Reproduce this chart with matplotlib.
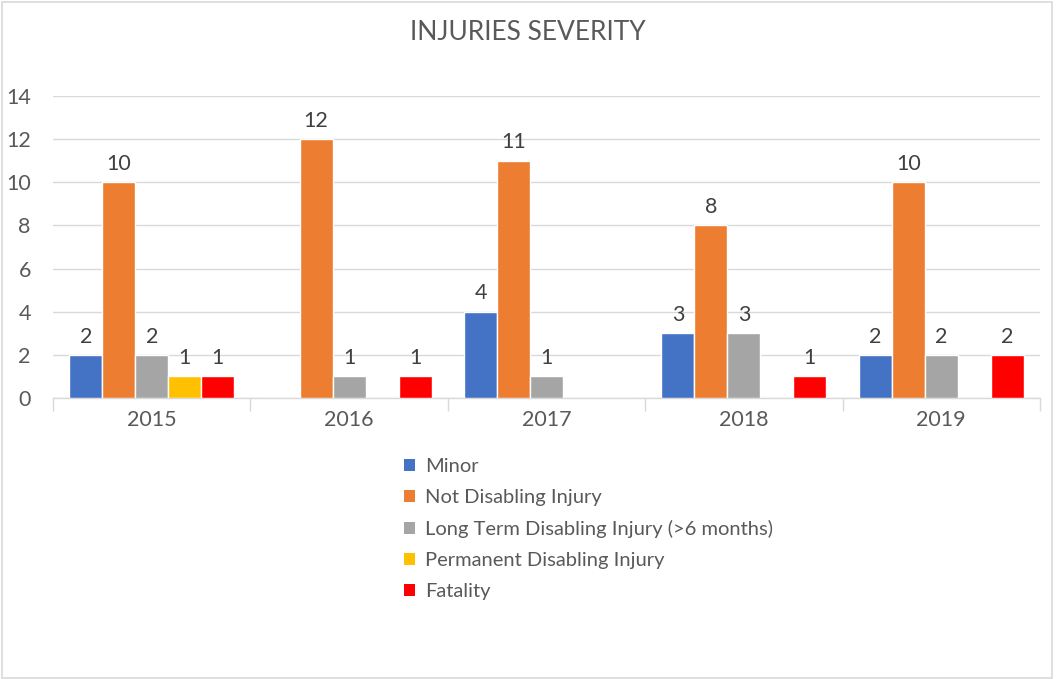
import matplotlib
matplotlib.use("Agg")
import matplotlib.pyplot as plt
from matplotlib.patches import Patch, Rectangle
import numpy as np

plt.rcParams['font.family'] = ['Lato', 'DejaVu Sans']

years = ["2015", "2016", "2017", "2018", "2019"]
series_names = ["Minor", "Not Disabling Injury", "Long Term Disabling Injury (>6 months)",
                "Permanent Disabling Injury", "Fatality"]
minor = [2, 0, 4, 3, 2]
not_disabling = [10, 12, 11, 8, 10]
long_term = [2, 1, 1, 3, 2]
permanent = [1, 0, 0, 0, 0]
fatality = [1, 1, 0, 1, 2]
colors = ["#4472C4", "#ED7D31", "#A5A5A5", "#FFC000", "#FF0000"]
yticks = [0, 2, 4, 6, 8, 10, 12, 14]

values = [minor, not_disabling, long_term, permanent, fatality]
text_color = "#595959"
grid_color = "#d9d9d9"

fig = plt.figure(figsize=(10.56, 6.79), dpi=100)
ax = fig.add_axes([53/1056, 1-398/679, (1040-53)/1056, (398-96)/679])

x = np.arange(len(years))
slot = 0.167
for i, (vals, col) in enumerate(zip(values, colors)):
    pos = x + (i - 2) * slot
    ax.bar(pos, vals, width=slot, color=col, edgecolor="white", linewidth=1.0, zorder=3)
    for p, v in zip(pos, vals):
        if v > 0:
            ax.annotate(str(v), (p, v), xytext=(0, 6), textcoords="offset points",
                        ha="center", va="bottom", fontsize=15.5, color="#404040")

ax.set_xlim(-0.5, len(years) - 0.5)
ax.set_ylim(0, 14)
ax.set_yticks(yticks)
ax.set_yticklabels([str(t) for t in yticks])
ax.yaxis.grid(True, color=grid_color, linewidth=1.0, zorder=0)
ax.set_axisbelow(True)
ax.tick_params(axis="y", length=0, pad=16, labelsize=15.5, labelcolor=text_color)

ax.set_xticks(x)
ax.set_xticklabels(years)
ax.set_xticks(np.arange(-0.5, len(years)), minor=True)
ax.tick_params(axis="x", which="major", length=0, pad=9, labelsize=15.5, labelcolor=text_color)
ax.tick_params(axis="x", which="minor", length=9, width=1, color=grid_color, direction="out")

for s in ["top", "right", "left"]:
    ax.spines[s].set_visible(False)
ax.spines["bottom"].set_color(grid_color)
ax.spines["bottom"].set_linewidth(1.0)

fig.text(0.5, 1-32/679, "INJURIES SEVERITY", ha="center", va="center", fontsize=19, color=text_color)

handles = [Patch(facecolor=c, edgecolor="none") for c in colors]
fig.legend(handles, series_names, loc="upper left", bbox_to_anchor=(396/1056, 1-450/679),
           frameon=False, fontsize=14.5, labelcolor=text_color, handlelength=0.55, handleheight=0.55,
           handletextpad=0.5, labelspacing=0.69, borderaxespad=0)

fig.patches.append(Rectangle((0.002, 0.002), 0.994, 0.995, transform=fig.transFigure,
                             fill=False, edgecolor=grid_color, linewidth=1.2))

fig.savefig("out.png", dpi=100)
